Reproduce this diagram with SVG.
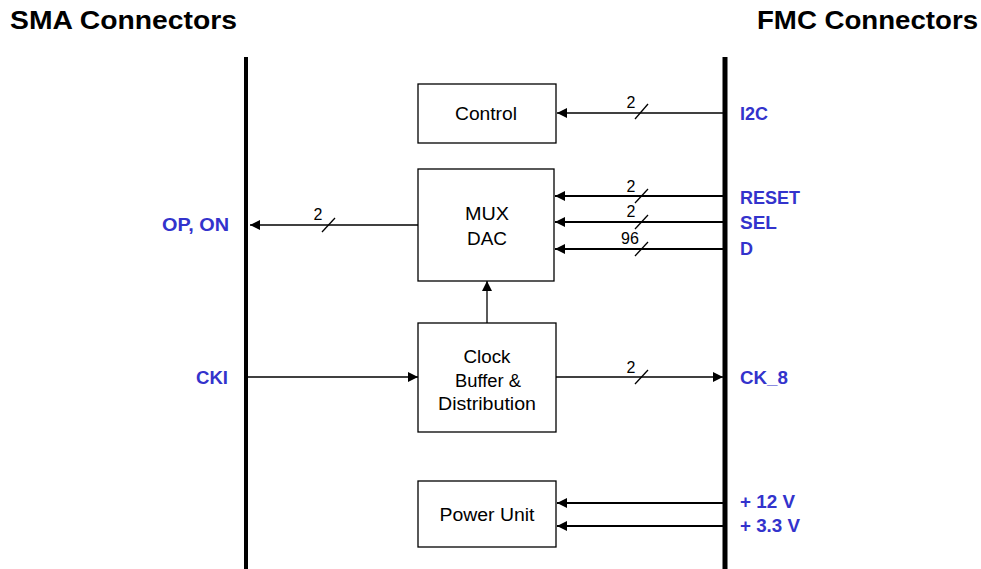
<svg xmlns="http://www.w3.org/2000/svg" width="981" height="569" viewBox="0 0 981 569">
<defs>
<marker id="ah" viewBox="0 0 10 10" refX="10" refY="5" markerWidth="10" markerHeight="10" markerUnits="userSpaceOnUse" orient="auto"><path d="M0,0 L10,5 L0,10 z" fill="#000"/></marker>
</defs>
<style>
.title{font-family:"Liberation Sans",Arial,sans-serif;font-weight:bold;font-size:25px;fill:#000}
.lbl{font-family:"Liberation Sans",Arial,sans-serif;font-weight:bold;font-size:18px;fill:#3333CC}
.box{fill:#fff;stroke:#000;stroke-width:1.3}
.bt{font-family:"Liberation Sans",Arial,sans-serif;font-size:18px;fill:#000;text-anchor:middle}
.w{stroke:#000;stroke-width:1.3;fill:none}
.wt{stroke:#000;stroke-width:2.2;fill:none}
.n{font-family:"Liberation Sans",Arial,sans-serif;font-size:16px;fill:#000;text-anchor:middle}
.bus{stroke:#000;fill:none}
</style>
<rect width="981" height="569" fill="#fff"/>
<text class="title" x="10" y="29" textLength="227" lengthAdjust="spacingAndGlyphs">SMA Connectors</text>
<text class="title" x="757" y="29" textLength="221" lengthAdjust="spacingAndGlyphs">FMC Connectors</text>
<g id="buses">
<line class="bus" x1="246" y1="57" x2="246" y2="569" stroke-width="4"/>
<line class="bus" x1="725" y1="57" x2="725" y2="569" stroke-width="5"/>
</g>
<g id="control"><rect class="box" x="418" y="84" width="138" height="59"/><text class="bt" x="486" y="120" textLength="62" lengthAdjust="spacingAndGlyphs">Control</text></g>
<g id="muxdac"><rect class="box" x="418" y="169" width="136" height="112"/><text class="bt" x="487" y="220" textLength="44" lengthAdjust="spacingAndGlyphs">MUX</text><text class="bt" x="487" y="245" textLength="40" lengthAdjust="spacingAndGlyphs">DAC</text></g>
<g id="clock"><rect class="box" x="418" y="323" width="138" height="109"/><text class="bt" x="487" y="363" textLength="47" lengthAdjust="spacingAndGlyphs">Clock</text><text class="bt" x="488" y="387" textLength="66" lengthAdjust="spacingAndGlyphs">Buffer &amp;</text><text class="bt" x="487" y="410" textLength="98" lengthAdjust="spacingAndGlyphs">Distribution</text></g>
<g id="power"><rect class="box" x="418" y="481" width="138" height="66"/><text class="bt" x="487" y="521" textLength="95" lengthAdjust="spacingAndGlyphs">Power Unit</text></g>
<g id="connectors">
<line class="w" x1="723" y1="113" x2="557" y2="113" marker-end="url(#ah)"/>
<line class="w" x1="635" y1="119" x2="648" y2="104"/><text class="n" x="631" y="108">2</text>
<line class="wt" x1="723" y1="196" x2="555" y2="196" marker-end="url(#ah)"/>
<line class="w" x1="635" y1="203" x2="648" y2="189"/><text class="n" x="631" y="192">2</text>
<line class="wt" x1="723" y1="222" x2="555" y2="222" marker-end="url(#ah)"/>
<line class="w" x1="635" y1="229" x2="648" y2="215"/><text class="n" x="631" y="217">2</text>
<line class="wt" x1="723" y1="249" x2="555" y2="249" marker-end="url(#ah)"/>
<line class="w" x1="635" y1="256" x2="648" y2="242"/><text class="n" x="630" y="244">96</text>
<line class="w" x1="418" y1="225" x2="250" y2="225" marker-end="url(#ah)"/>
<line class="w" x1="322" y1="232" x2="335" y2="218"/><text class="n" x="318" y="220">2</text>
<line class="w" x1="248" y1="377" x2="418" y2="377" marker-end="url(#ah)"/>
<line class="w" x1="556" y1="377" x2="723" y2="377" marker-end="url(#ah)"/>
<line class="w" x1="635" y1="384" x2="648" y2="370"/><text class="n" x="631" y="373">2</text>
<line class="w" x1="487" y1="323" x2="487" y2="281" marker-end="url(#ah)"/>
<line class="wt" x1="723" y1="503" x2="557" y2="503" marker-end="url(#ah)"/>
<line class="wt" x1="723" y1="526" x2="557" y2="526" marker-end="url(#ah)"/>
</g>
<g id="labels">
<text class="lbl" x="740" y="120" textLength="28" lengthAdjust="spacingAndGlyphs">I2C</text>
<text class="lbl" x="740" y="204" textLength="60" lengthAdjust="spacingAndGlyphs">RESET</text>
<text class="lbl" x="740" y="229" textLength="37" lengthAdjust="spacingAndGlyphs">SEL</text>
<text class="lbl" x="740" y="255" textLength="13" lengthAdjust="spacingAndGlyphs">D</text>
<text class="lbl" x="162" y="231" textLength="67" lengthAdjust="spacingAndGlyphs">OP, ON</text>
<text class="lbl" x="196" y="384" textLength="32" lengthAdjust="spacingAndGlyphs">CKI</text>
<text class="lbl" x="740" y="384" textLength="48" lengthAdjust="spacingAndGlyphs">CK_8</text>
<text class="lbl" x="740" y="508" textLength="55" lengthAdjust="spacingAndGlyphs">+ 12 V</text>
<text class="lbl" x="740" y="532" textLength="60" lengthAdjust="spacingAndGlyphs">+ 3.3 V</text>
</g>
</svg>
